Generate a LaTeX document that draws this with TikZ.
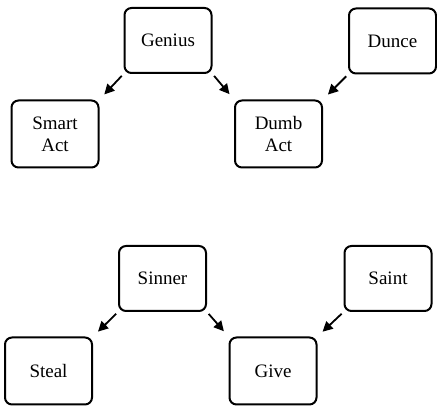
\documentclass[tikz,border=0pt]{standalone}
\usepackage{fontspec}
\setmainfont{Liberation Serif}
\usepackage{tikz}
\usetikzlibrary{arrows.meta}

\begin{document}
\begin{tikzpicture}[x=1pt,y=1pt,
    box/.style={draw,line width=2pt,rounded corners=7pt,minimum width=87pt,
      minimum height=65pt,align=center,font=\fontsize{19}{22}\selectfont},
    link/.style={line width=1.8pt,-{Triangle[length=10pt,width=10pt]},
      shorten <=2.5pt,shorten >=7pt}]
          \useasboundingbox (0,0) rectangle (437,407);
          % top row
          \node[box] (genius) at (168,366.5){Genius};
          \node[box] (dunce) at (392.5,366){Dunce};
          \node[box,minimum height=67pt] (smart) at (55,273){Smart\\Act};
          \node[box,minimum height=67pt] (dumb) at (278.5,273){Dumb\\Act};
          % bottom row
          \node[box] (sinner) at (162.5,128.5){Sinner};
          \node[box] (saint) at (388,128.5){Saint};
          \node[box,minimum height=67pt] (steal) at (48.5,36){Steal};
          \node[box,minimum height=67pt] (give) at (273,36){Give};
          \draw[link] (genius.south west) -- (smart.north east);
          \draw[link] (genius.south east) -- (dumb.north west);
          \draw[link] (dunce.south west) -- (dumb.north east);
          \draw[link] (sinner.south west) -- (steal.north east);
          \draw[link] (sinner.south east) -- (give.north west);
          \draw[link] (saint.south west) -- (give.north east);
        \end{tikzpicture}
\end{document}
